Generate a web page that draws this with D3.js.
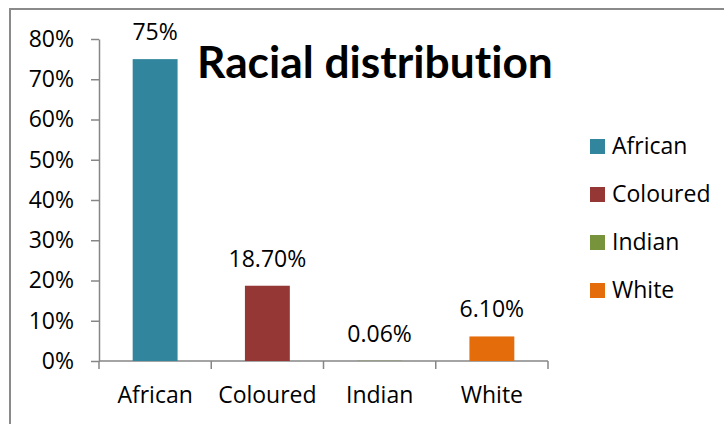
<!DOCTYPE html>
<html>
<head>
<meta charset="utf-8">
<script src="https://cdn.jsdelivr.net/npm/d3@7"></script>
<style>
  html, body { margin: 0; padding: 0; background: #fff; }
  svg { display: block; font-family: "Open Sans", sans-serif; }
</style>
</head>
<body>
<div id="chart"></div>
<script>
// ── Data ───────────────────────────────────────────────────────────────
const categories = ["African", "Coloured", "Indian", "White"];
const shares     = [0.75, 0.187, 0.0006, 0.061];
const shareLabels = ["75%", "18.70%", "0.06%", "6.10%"];
const yTicks     = [0, 0.1, 0.2, 0.3, 0.4, 0.5, 0.6, 0.7, 0.8];
const colors     = ["#31859C", "#953735", "#77933C", "#E46C0A"];

const W = 724, H = 424;
const axisColor = "#868686";

const svg = d3.select("#chart").append("svg")
  .attr("width", W).attr("height", H);

// chart frame (right and bottom edges run off the picture)
svg.append("rect")
  .attr("x", 10).attr("y", 9)
  .attr("width", 730).attr("height", 440)
  .attr("fill", "none")
  .attr("stroke", "#8a8a8a")
  .attr("stroke-width", 2);

const x = d3.scaleBand()
  .domain(categories)
  .range([99, 548])
  .paddingInner(0.6)
  .paddingOuter(0.3);

const y = d3.scaleLinear()
  .domain([0, 0.8])
  .range([361, 39]);

// ── Y axis ─────────────────────────────────────────────────────────────
const yAxis = svg.append("g")
  .attr("transform", "translate(99,0)")
  .call(d3.axisLeft(y)
    .tickValues(yTicks)
    .tickFormat(d3.format(".0%"))
    .tickSize(8)
    .tickPadding(17)
    .tickSizeOuter(0));
yAxis.select(".domain").attr("stroke", axisColor).attr("stroke-width", 1.5);
yAxis.selectAll(".tick line").attr("stroke", axisColor).attr("stroke-width", 1.5);
yAxis.selectAll(".tick text")
  .attr("fill", "#000")
  .style("font-size", "23px")
  .style("font-family", "Open Sans");

// ── X axis (ticks at category boundaries) ──────────────────────────────
const xg = svg.append("g");
const [x0, x1] = x.range();
xg.append("line")
  .attr("x1", x0).attr("x2", x1)
  .attr("y1", y(0)).attr("y2", y(0))
  .attr("stroke", axisColor).attr("stroke-width", 1.5);
const bounds = d3.range(categories.length + 1).map(i => x0 + i * (x1 - x0) / categories.length);
xg.selectAll("line.xtick").data(bounds).join("line")
  .attr("class", "xtick")
  .attr("x1", d => d).attr("x2", d => d)
  .attr("y1", y(0)).attr("y2", y(0) + 8)
  .attr("stroke", axisColor).attr("stroke-width", 1.5);
xg.selectAll("text").data(categories).join("text")
  .attr("x", d => x(d) + x.bandwidth() / 2)
  .attr("y", 403)
  .attr("text-anchor", "middle")
  .style("font-size", "23px")
  .text(d => d);

// ── Bars ───────────────────────────────────────────────────────────────
svg.append("g").selectAll("rect").data(categories).join("rect")
  .attr("x", d => x(d))
  .attr("y", (d, i) => y(shares[i]))
  .attr("width", x.bandwidth())
  .attr("height", (d, i) => y(0) - y(shares[i]))
  .attr("fill", (d, i) => colors[i]);

// value labels
svg.append("g").selectAll("text").data(categories).join("text")
  .attr("x", d => x(d) + x.bandwidth() / 2)
  .attr("y", (d, i) => y(shares[i]) - 19)
  .attr("text-anchor", "middle")
  .style("font-size", "23px")
  .text((d, i) => shareLabels[i]);

// ── Title (sized to span 197..553) ─────────────────────────────────────
const title = svg.append("text")
  .attr("x", 197)
  .attr("y", 78)
  .style("font-family", "Lato, sans-serif")
  .style("font-size", "40px")
  .style("font-weight", "bold")
  .style("font-variant-ligatures", "none")
  .style("font-feature-settings", "'liga' 0, 'clig' 0")
  .text("Racial distribution");
const tw = title.node().getComputedTextLength();
title.style("font-size", (40 * 356 / tw).toFixed(2) + "px");

// ── Legend ─────────────────────────────────────────────────────────────
const legend = svg.append("g").attr("transform", "translate(590,139)");
const row = legend.selectAll("g").data(categories).join("g")
  .attr("transform", (d, i) => `translate(0,${i * 48})`);
row.append("rect")
  .attr("width", 15).attr("height", 15)
  .attr("fill", (d, i) => colors[i]);
row.append("text")
  .attr("x", 22).attr("y", 15)
  .style("font-size", "23px")
  .text(d => d);
</script>
</body>
</html>
